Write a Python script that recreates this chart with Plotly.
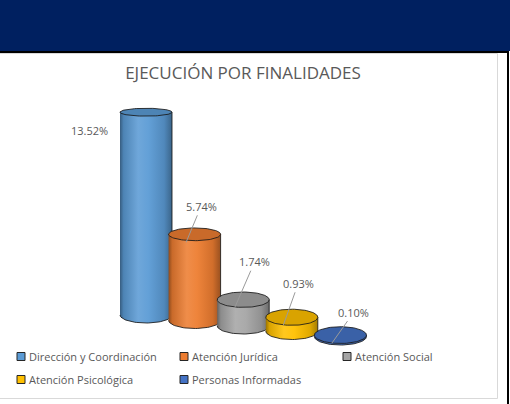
import numpy as np
import plotly.graph_objects as go

# ---------------- data ----------------
categories = ["Dirección y Coordinación", "Atención Jurídica", "Atención Social",
              "Atención Psicológica", "Personas Informadas"]
values = [13.52, 5.74, 1.74, 0.93, 0.10]
value_labels = ["13.52%", "5.74%", "1.74%", "0.93%", "0.10%"]
series_colors = ["#5B9BD5", "#ED7D31", "#A5A5A5", "#FFC000", "#4472C4"]
chart_title = "EJECUCIÓN POR FINALIDADES"

# ---------------- layout / style (pixels) ----------------
W, H = 510, 404
X0, PX_X = 146.0, 48.6          # pixel of first category, px per category
Y0, PX_Y = 315.0, 15.0          # pixel of value 0 (first floor), px per unit
FLOOR_STEP = 5.4                # perspective drop of the floor per category (px)
RX_PX = 26.0                    # cylinder radius (px)
FONT = "Open Sans"
TXT = "#595959"
OUT = "rgba(25,25,25,0.85)"

# label placement: (dx, dy) of text centre from arrow tip in px (dy>0 = down);
# the first label has no leader line and is shifted from the top centre
label_offsets = [(-57, 18), (15, -36), (20, -46), (15, -42), (22, -31)]
TIP_DX, TIP_DY = -8.5, 8.0


def ypx(y):
    return Y0 - y * PX_Y


def ell_h(py):
    # half height of an ellipse (data units) as a function of its pixel height (perspective)
    return (1.7 + 0.02 * py) / PX_Y


def shade(hexc, f):
    r, g, b = int(hexc[1:3], 16), int(hexc[3:5], 16), int(hexc[5:7], 16)
    if f < 0:
        r, g, b = [int(round(c * (1 + f))) for c in (r, g, b)]
    else:
        r, g, b = [int(round(c + (255 - c) * f)) for c in (r, g, b)]
    return f"rgb({r},{g},{b})"


fig = go.Figure()
rx = RX_PX / PX_X
theta = np.linspace(0, 2 * np.pi, 91)
arc = np.linspace(0, -np.pi, 46)

tops = []
for i, (cat, v, c) in enumerate(zip(categories, values, series_colors)):
    f = -i * FLOOR_STEP / PX_Y
    t = f + v
    tops.append(t)
    hb = ell_h(ypx(f))
    ht = ell_h(ypx(t))
    bx = np.concatenate([[i - rx, i + rx], i + rx * np.cos(arc)])
    by = np.concatenate([[t, t], f + hb * np.sin(arc)])
    fig.add_trace(go.Scatter(
        x=bx, y=by, mode="lines", fill="toself", name=cat,
        line=dict(color=OUT, width=1),
        fillgradient=dict(type="horizontal", colorscale=[
            [0.0, shade(c, -0.40)], [0.07, shade(c, -0.15)], [0.35, shade(c, 0.12)],
            [0.55, shade(c, 0.05)], [0.85, shade(c, -0.12)], [1.0, shade(c, -0.35)]]),
        hoverinfo="skip", showlegend=False))
    ex = i + rx * np.cos(theta)
    ey = t + ht * np.sin(theta)
    fig.add_trace(go.Scatter(
        x=ex, y=ey, mode="lines", fill="toself", name=cat,
        line=dict(color=OUT, width=1), fillcolor=shade(c, -0.15),
        hoverinfo="skip", showlegend=False))

# data labels
for i, (lab, t) in enumerate(zip(value_labels, tops)):
    dx, dy = label_offsets[i]
    if i == 0:
        fig.add_annotation(x=i, y=t, text=lab, showarrow=False, xshift=dx, yshift=-dy,
                           font=dict(family=FONT, size=11, color=TXT))
    else:
        fig.add_annotation(x=i + TIP_DX / PX_X, y=t - TIP_DY / PX_Y, text=lab,
                           showarrow=True, arrowhead=0, arrowwidth=1, arrowcolor="#9a9a9a",
                           ax=dx, ay=dy, font=dict(family=FONT, size=11, color=TXT))

shapes = []
# header band and frame lines
shapes.append(dict(type="rect", xref="paper", yref="paper", x0=0, x1=1, y0=1 - 51 / H, y1=1,
                   fillcolor="#002060", line=dict(width=0), layer="above"))
shapes.append(dict(type="rect", xref="paper", yref="paper", x0=0, x1=509 / W,
                   y0=1 - 53 / H, y1=1 - 51 / H, fillcolor="black", line=dict(width=0), layer="above"))
shapes.append(dict(type="rect", xref="paper", yref="paper", x0=507 / W, x1=509 / W,
                   y0=0, y1=1 - 51 / H, fillcolor="black", line=dict(width=0), layer="above"))
shapes.append(dict(type="rect", xref="paper", yref="paper", x0=-2 / W, x1=497.5 / W,
                   y0=1 - 398.5 / H, y1=1 - 53.5 / H, fillcolor="rgba(0,0,0,0)",
                   line=dict(color="#d9d9d9", width=1), layer="above"))

# legend (manual, Excel-like grid)
col_x = [17, 180, 343]
row_y = [356.5, 379.5]
for i, (cat, c) in enumerate(zip(categories, series_colors)):
    sx = col_x[i % 3]
    sy = row_y[i // 3]
    shapes.append(dict(type="rect", xref="paper", yref="paper",
                       x0=sx / W, x1=(sx + 8) / W, y0=1 - (sy + 4) / H, y1=1 - (sy - 4) / H,
                       fillcolor=c, line=dict(color="#262626", width=1), layer="above"))
    fig.add_annotation(xref="paper", yref="paper", x=(sx + 10) / W, y=1 - sy / H,
                       text=cat, showarrow=False, xanchor="left", yanchor="middle",
                       font=dict(family=FONT, size=11, color=TXT))

fig.update_layout(
    width=W, height=H, autosize=False,
    margin=dict(l=0, r=0, t=0, b=0, pad=0),
    paper_bgcolor="white", plot_bgcolor="rgba(0,0,0,0)",
    title=dict(text=chart_title, x=243 / W, y=1 - 73 / H, xanchor="center", yanchor="middle",
               xref="paper", yref="container",
               font=dict(family=FONT, size=17, color=TXT)),
    xaxis=dict(range=[(0 - X0) / PX_X, (W - X0) / PX_X], visible=False, fixedrange=True),
    yaxis=dict(range=[-(H - Y0) / PX_Y, Y0 / PX_Y], visible=False, fixedrange=True),
    shapes=shapes, showlegend=False,
)

fig.write_html("out.html", config={"displayModeBar": False})
